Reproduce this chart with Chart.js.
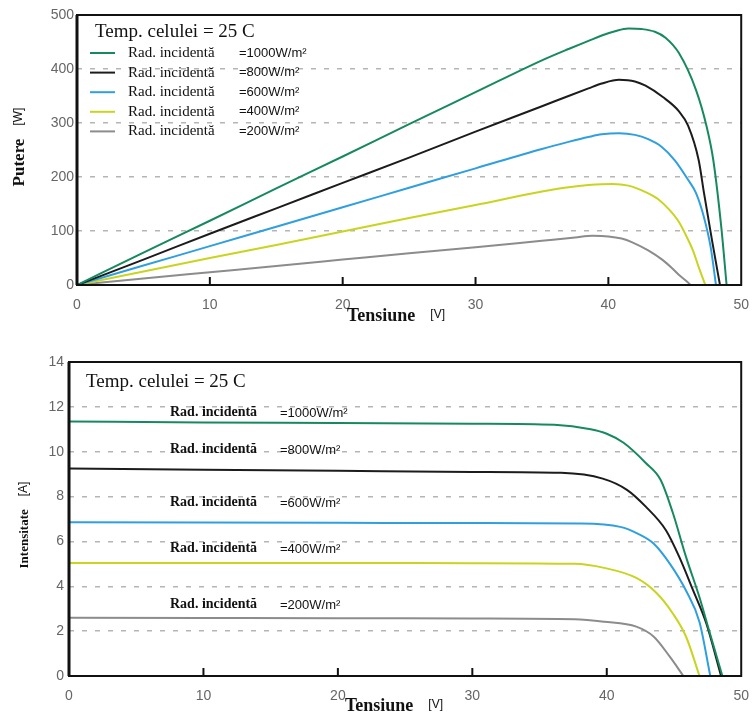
<!DOCTYPE html>
<html>
<head>
<meta charset="utf-8">
<script src="https://cdn.jsdelivr.net/npm/chart.js@4.4.1/dist/chart.umd.min.js"></script>
<style>
    body { margin: 0; background: #fff; }
    canvas { position: absolute; left: 0; }
    #graficPutere { top: 0; }
    #graficCurent { top: 340px; }
</style>
</head>
<body>
<canvas id="graficPutere" width="753" height="340"></canvas>
<canvas id="graficCurent" width="753" height="374"></canvas>
<script>
// Radiatii (etichete) si culori
const radiatii = ["=1000W/m²", "=800W/m²", "=600W/m²", "=400W/m²", "=200W/m²"];
const culori = ["#168a5e", "#1c1c1c", "#2f9fe0", "#c9d420", "#8c8c8c"];

// Putere [W] in functie de tensiune [V] : perechi [V, P]
const pv1000 = [[0, 0], [5, 60], [10, 119], [15, 179], [20, 238], [25, 298], [30, 357], [35, 416], [37, 437], [38.5, 452], [39.5, 462], [40.5, 470], [41.5, 475], [42.5, 474], [43.5, 469], [44.3, 458], [45.3, 430], [46.6, 361], [47.4, 293], [47.9, 231], [48.5, 107], [48.9, 0]];
const pv800 = [[0, 0], [5, 47], [10, 95], [15, 142], [20, 189], [25, 236], [30, 284], [35, 331], [37, 350], [38.5, 364], [39.5, 373], [40.8, 380], [42, 377], [42.8, 369], [44.1, 348], [45.3, 322], [46, 295], [46.8, 231], [47.2, 170], [47.8, 83], [48.4, 0]];
const pv600 = [[0, 0], [5, 36], [10, 72], [15, 108], [20, 144], [25, 180], [30, 216], [35, 252], [37, 265], [38.5, 274], [39.5, 279], [40.8, 281], [42, 278], [43, 270], [44, 256], [45, 231], [46, 195], [46.6, 170], [47.2, 125], [47.7, 70], [48.1, 0]];
const pv400 = [[0, 0], [5, 25], [10, 50], [15, 74], [20, 99], [25, 124], [30, 148], [35, 173], [37, 181], [38.5, 185], [40.3, 187], [41.5, 184], [42.8, 172], [43.8, 158], [44.6, 139], [45.3, 117], [45.9, 89], [46.4, 62], [46.8, 33], [47.3, 0]];
const pv200 = [[0, 0], [5, 12], [10, 23.5], [15, 35], [20, 47], [25, 59], [30, 70], [35, 82], [37.5, 88], [38.8, 91], [40, 90], [41, 86], [41.8, 79], [43, 64], [44.1, 46], [44.8, 31], [45.3, 19], [45.8, 9], [46.2, 0]];

// Intensitate [A] in functie de tensiune [V] : perechi [V, I]
const iv1000 = [[0, 11.35], [10, 11.3], [20, 11.28], [30, 11.25], [36.1, 11.2], [38.8, 11.0], [40, 10.8], [41.25, 10.4], [42.9, 9.5], [44.0, 8.75], [44.9, 7.3], [45.9, 5.3], [46.9, 3.5], [47.6, 2.05], [48.6, 0]];
const iv800 = [[0, 9.25], [10, 9.2], [20, 9.15], [30, 9.1], [36.6, 9.06], [39.7, 8.8], [41.5, 8.3], [42.9, 7.55], [44.4, 6.5], [45.4, 5.3], [46.4, 3.85], [47.4, 2.35], [48.5, 0]];
const iv600 = [[0, 6.85], [10, 6.84], [20, 6.83], [30, 6.82], [38, 6.8], [41, 6.65], [42.3, 6.35], [43.5, 5.9], [44.7, 5.0], [45.9, 3.8], [46.9, 2.4], [47.7, 0]];
const iv400 = [[0, 5.04], [10, 5.04], [20, 5.04], [30, 5.03], [37.6, 5.0], [39.8, 4.82], [42.2, 4.37], [43.7, 3.7], [44.9, 2.8], [45.9, 1.75], [46.9, 0]];
const iv200 = [[0, 2.6], [10, 2.59], [20, 2.58], [30, 2.56], [37.6, 2.53], [39.8, 2.42], [42.2, 2.2], [43.5, 1.75], [44.7, 0.85], [45.7, 0]];

const serif = '"Liberation Serif", "DejaVu Serif", serif';
const sans = '"Liberation Sans", Arial, sans-serif';

const seturi = (serii) => serii.map((s, i) => ({
    label: radiatii[i],
    data: s.map(p => ({ x: p[0], y: p[1] })),
    borderColor: culori[i],
    borderWidth: 2,
    pointRadius: 0,
    showLine: true,
    cubicInterpolationMode: "monotone"
}));

// text compus: cuvant in serif bold + unitate mica
function textCompus(ctx, cuvant, unitate, fontCuvant, fontUnitate, cx, cy, gol) {
    ctx.font = fontCuvant;
    const w1 = ctx.measureText(cuvant).width;
    ctx.font = fontUnitate;
    const w2 = ctx.measureText(unitate).width;
    const start = cx - (w1 + gol + w2) / 2;
    ctx.textBaseline = "middle";
    ctx.textAlign = "left";
    ctx.font = fontCuvant;
    ctx.fillText(cuvant, start, cy);
    ctx.font = fontUnitate;
    ctx.fillText(unitate, start + w1 + gol, cy - 1);
}

const decor = {
    id: "decor",
    afterDraw(chart, args, opts) {
        const { ctx, chartArea: a, scales } = chart;
        ctx.save();
        ctx.strokeStyle = "#111";
        ctx.fillStyle = "#111";

        // marcaje spre interior pe axa x
        ctx.lineWidth = 2;
        scales.x.ticks.forEach(t => {
            if (t.value <= scales.x.min || t.value >= scales.x.max) return;
            const x = scales.x.getPixelForValue(t.value);
            ctx.beginPath();
            ctx.moveTo(x, a.bottom);
            ctx.lineTo(x, a.bottom - 8);
            ctx.stroke();
        });

        // chenar
        ctx.strokeRect(a.left, a.top, a.right - a.left, a.bottom - a.top);
        ctx.lineWidth = 3;
        ctx.beginPath();
        ctx.moveTo(a.left, a.top);
        ctx.lineTo(a.left, a.bottom);
        ctx.stroke();

        // titluri axe
        textCompus(ctx, "Tensiune", "[V]", "bold 18px " + serif, "12px " + sans, opts.tx, opts.ty, 15);
        ctx.save();
        ctx.translate(opts.yx, opts.yy);
        ctx.rotate(-Math.PI / 2);
        textCompus(ctx, opts.yTitlu, opts.yUnitate, opts.yFont, "12px " + sans, 0, 0, 13);
        ctx.restore();

        // temperatura
        ctx.textBaseline = "middle";
        ctx.textAlign = "left";
        ctx.font = "19px " + serif;
        ctx.fillText("Temp. celulei = 25 C", opts.tempX, opts.tempY);

        const ds = chart.data.datasets;
        if (opts.legenda) {
            ds.forEach((d, i) => {
                const y = 53 + i * 19.6;
                ctx.strokeStyle = d.borderColor;
                ctx.lineWidth = 2;
                ctx.beginPath();
                ctx.moveTo(90, y);
                ctx.lineTo(115, y);
                ctx.stroke();
                ctx.fillStyle = "#111";
                ctx.font = "15px " + serif;
                ctx.fillText("Rad. incidentă", 128, y);
                ctx.font = "13px " + sans;
                ctx.fillText(d.label, 239, y);
            });
        } else {
            ds.forEach((d, i) => {
                const y = scales.y.getPixelForValue(d.data[0].y) + opts.decalaj[i];
                ctx.fillStyle = "#111";
                ctx.font = "bold 14px " + serif;
                ctx.fillText("Rad. incidentă", 170, y);
                ctx.font = "13px " + sans;
                ctx.fillText(d.label, 280, y + 1);
            });
        }
        ctx.restore();
    }
};

function optiuni(yMax, yPas, latimeY, inaltimeX, sus, dreapta, pad, decorOpt) {
    return {
        responsive: false,
        animation: false,
        layout: { padding: { top: sus, right: dreapta, left: 0, bottom: 0 } },
        plugins: {
            legend: { display: false },
            tooltip: { enabled: false },
            decor: decorOpt
        },
        scales: {
            x: {
                type: "linear",
                min: 0,
                max: 50,
                grid: { display: false },
                border: { display: false },
                ticks: { stepSize: 10, padding: 4, color: "#666", font: { family: sans, size: 14 }, maxRotation: 0 },
                afterFit: s => { s.height = inaltimeX; }
            },
            y: {
                min: 0,
                max: yMax,
                grid: {
                    drawTicks: false,
                    color: c => (c.tick.value === 0 || c.tick.value === yMax) ? "rgba(0,0,0,0)" : "#b5b5b5",
                    lineWidth: 1.5
                },
                border: { display: false, dash: [5, 8] },
                ticks: { stepSize: yPas, padding: pad, color: "#666", font: { family: sans, size: 14 } },
                afterFit: s => { s.width = latimeY; }
            }
        }
    };
}

new Chart(document.getElementById("graficPutere"), {
    type: "scatter",
    data: { datasets: seturi([pv1000, pv800, pv600, pv400, pv200]) },
    options: optiuni(500, 100, 77, 55, 15, 10, 3, {
        tx: 396, ty: 316, yx: 20, yy: 147,
        yTitlu: "Putere", yUnitate: "[W]", yFont: "bold 17px " + serif,
        tempX: 95, tempY: 32, legenda: true
    }),
    plugins: [decor]
});

new Chart(document.getElementById("graficCurent"), {
    type: "scatter",
    data: { datasets: seturi([iv1000, iv800, iv600, iv400, iv200]) },
    options: optiuni(14, 2, 69, 38, 22, 6, 5, {
        tx: 394, ty: 366, yx: 25, yy: 185,
        yTitlu: "Intensitate", yUnitate: "[A]", yFont: "bold 13px " + serif,
        tempX: 86, tempY: 42, legenda: false,
        decalaj: [-9, -19, -20, -15, -13]
    }),
    plugins: [decor]
});
</script>
</body>
</html>
